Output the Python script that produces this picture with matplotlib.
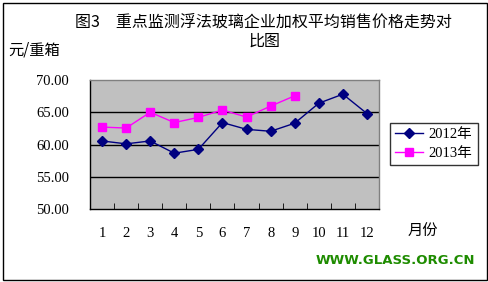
import matplotlib
matplotlib.use("Agg")
import matplotlib.pyplot as plt

months = list(range(1, 13))
month_labels = [str(m) for m in months]
y2012 = [60.55, 60.1, 60.55, 58.65, 59.25, 63.4, 62.35, 62.05, 63.3, 66.4, 67.8, 64.8]
y2013 = [62.7, 62.55, 65.0, 63.4, 64.2, 65.35, 64.25, 65.95, 67.55]
yticks = [50, 55, 60, 65, 70]

FONT = ['Liberation Serif', 'Noto Sans CJK SC']
CJK = ['Noto Sans CJK SC', 'DejaVu Sans']

fig = plt.figure(figsize=(4.89, 2.82), dpi=100)
fig.patch.set_facecolor('white')
# outer frame
fig.add_artist(plt.Rectangle((3/489, 2/282), 484/489, 277/282, transform=fig.transFigure,
                             fill=False, edgecolor='black', linewidth=1))

ax = fig.add_axes([90/489, 1-209/282, 289/489, 129/282])
ax.set_facecolor('#C0C0C0')
ax.set_xlim(0.5, 12.5)
ax.set_ylim(50, 70)
for y in [55, 60, 65]:
    ax.axhline(y, color='black', linewidth=1, zorder=1)

ax.plot(months, y2012, color='#000080', marker='D', markersize=4.8, linewidth=1,
        label='2012年', zorder=3)
ax.plot(months[:len(y2013)], y2013, color='#FF00FF', marker='s', markersize=5.5, linewidth=1,
        label='2013年', zorder=3)

ax.spines['left'].set_color('black')
ax.spines['bottom'].set_color('black')
ax.spines['top'].set_color('#808080')
ax.spines['right'].set_color('#808080')
for s in ax.spines.values():
    s.set_linewidth(1)

ax.set_yticks(yticks)
ax.set_yticklabels([f"{v:.2f}" for v in yticks], family=FONT, fontsize=10.5)
ax.tick_params(axis='y', length=0, pad=15)

ax.set_xticks(months)
ax.set_xticklabels(month_labels, family=FONT, fontsize=10.5)
ax.tick_params(axis='x', which='major', length=0, pad=13)
ax.set_xticks([m + 0.5 for m in months[:-1]], minor=True)
ax.tick_params(axis='x', which='minor', direction='in', length=4, color='black')

leg = ax.legend(loc='upper left', bbox_to_anchor=((390 - 90)/289, (209-123)/129),
                bbox_transform=ax.transAxes, frameon=True, fancybox=False,
                edgecolor='black', facecolor='white', prop={'family': FONT, 'size': 10.5},
                handlelength=1.9, borderaxespad=0, labelspacing=0.35, borderpad=0.35,
                handletextpad=0.4)
leg.get_frame().set_linewidth(1)

fig.text(263/489, 1-22/282, '图3\u3000重点监测浮法玻璃企业加权平均销售价格走势对',
         ha='center', va='center', family=CJK, fontsize=11.5)
fig.text(265/489, 1-41/282, '比图', ha='center', va='center', family=CJK, fontsize=11.5)
fig.text(8/489, 1-50/282, '元/重箱', ha='left', va='center', family=CJK, fontsize=11)
fig.text(423/489, 1-231/282, '月份', ha='center', va='center', family=CJK, fontsize=11)
fig.text(475/489, 1-260/282, 'WWW.GLASS.ORG.CN', ha='right', va='center',
         family='DejaVu Sans', fontweight='bold', fontsize=9.5, color='#1E8C00')

fig.savefig('out.png', dpi=100)
